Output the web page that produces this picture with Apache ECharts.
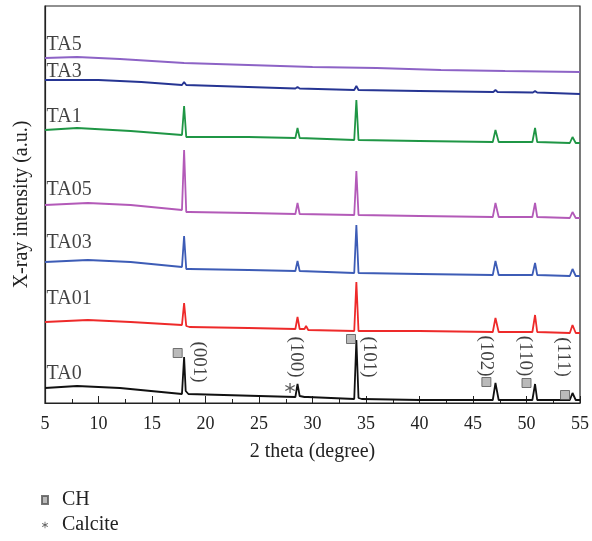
<!DOCTYPE html>
<html lang="en">
<head>
<meta charset="UTF-8">
<title>XRD</title>
<script src="https://cdn.jsdelivr.net/npm/echarts@6/dist/echarts.min.js"></script>
<style>
html, body { margin: 0; padding: 0; background: #fff; }
#main { width: 592px; height: 541px; }
</style>
</head>
<body>
<div id="main"></div>
<script>
// intensities (a.u., offset per sample)
var ta0 = [[5,15],[8,17],[12,15],[17.8,9],[18.0,46],[18.15,12],[18.4,9],[25,7],[28.4,6],[28.6,19],[28.8,7],[29.25,6],[29.4,8],[29.55,6],[33.9,4],[34.1,63],[34.3,5],[34.6,4],[40,3],[46.85,3],[47.1,20],[47.4,3],[50.55,3],[50.8,19],[51.0,3],[54.05,3],[54.3,10],[54.6,3],[55,3]];
var ta01 = [[5,81],[9,83],[13,81],[17.8,78],[18.0,100],[18.2,77],[18.5,76],[24,75],[28.4,74],[28.6,86],[28.8,74],[29.25,74],[29.4,77],[29.6,73],[33.9,72],[34.1,121],[34.3,72],[40,72],[46.85,71],[47.1,85],[47.4,71],[50.55,71],[50.8,88],[51.0,71],[54.05,70],[54.3,78],[54.6,70],[55,70]];
var ta03 = [[5,141],[9,143],[13,141],[17.8,136],[18.0,167],[18.2,134],[18.5,134],[24,133],[28.4,132],[28.6,142],[28.8,132],[33.9,130],[34.1,178],[34.3,130],[40,129],[46.85,128],[47.1,142],[47.4,128],[50.55,128],[50.8,140],[51.0,128],[54.05,127],[54.3,134],[54.6,127],[55,127]];
var ta05 = [[5,198],[9,200],[13,198],[17.8,193],[18.0,253],[18.2,191],[18.5,191],[24,190],[28.4,189],[28.6,200],[28.8,189],[33.9,188],[34.1,232],[34.3,188],[40,187],[46.85,186],[47.1,200],[47.4,186],[50.55,186],[50.8,200],[51.0,186],[54.05,185],[54.3,191],[54.6,185],[55,185]];
var ta1 = [[5,273],[8,275],[13,272],[17.8,268],[18.0,297],[18.2,266],[18.5,266],[24,266],[28.4,265],[28.6,275],[28.8,265],[33.9,263],[34.1,303],[34.3,263],[40,262],[46.85,261],[47.1,273],[47.4,261],[50.55,261],[50.8,275],[51.0,261],[54.05,260],[54.3,266],[54.6,260],[55,260]];
var ta3 = [[5,323],[10,323],[14,321],[17.8,318],[18.0,321],[18.2,318],[24,316],[28.4,314.5],[28.6,316],[28.8,314.5],[33.9,313],[34.1,317],[34.3,313],[40,312],[46.9,311],[47.1,313],[47.3,311],[50.6,310.5],[50.8,312],[51.0,310.5],[55,309]];
var ta5 = [[5,345],[8,346],[12,344],[18,340],[24,338],[30,336],[36,335],[42,333],[48,332],[55,331]];

var sampleNames = ['TA0','TA01','TA03','TA05','TA1','TA3','TA5'];
var sampleColors = ['#111111','#ee2a2a','#3d5cb6','#b35ab8','#1f9645','#263593','#8d63c6'];
var sampleLabelX = [5.15,5.15,5.15,5.15,5.15,5.15,5.15];
var sampleLabelY = [29,104,160,213,286,331,358];

var chPeaks = [[17.4,50],[33.6,64],[46.25,21],[50.0,20],[53.6,8]];
var calcitePeaks = [[27.9,15]];
var hklLabels = ['(001)','(100)','(101)','(102)','(110)','(111)'];
var hklPos = [[19.4,41],[28.5,46],[35.25,46],[46.2,47],[49.9,47],[53.45,46]];

var xTicks = { min: 5, max: 55, interval: 5 };

var serif = '"Liberation Serif", "DejaVu Serif", serif';
var asterisk = 'path://M4.4,0 L5.6,0 L5.6,10 L4.4,10 Z M1.0,1.9 L9.6,6.9 L9.0,8.0 L0.4,3.0 Z M9.0,1.9 L9.6,3.0 L1.0,8.0 L0.4,6.9 Z';

var allData = [ta0, ta01, ta03, ta05, ta1, ta3, ta5];
var series = [];
for (var i = 0; i < allData.length; i++) {
    series.push({
        name: sampleNames[i], type: 'line', data: allData[i],
        showSymbol: false, symbol: 'none',
        lineStyle: { color: sampleColors[i], width: 1.8 },
        itemStyle: { color: sampleColors[i] },
        z: 2
    });
}
// sample names
var nameData = [];
for (var i = 0; i < sampleNames.length; i++) {
    nameData.push([sampleLabelX[i], sampleLabelY[i], sampleNames[i]]);
}
series.push({
    name: 'names', type: 'scatter', data: nameData, symbolSize: 0,
    label: { show: true, position: 'right', distance: 0, formatter: function (p) { return p.value[2]; },
        fontFamily: serif, fontSize: 20, color: '#111' },
    silent: true, z: 3
});
// hkl labels
var hklData = [];
for (var i = 0; i < hklLabels.length; i++) {
    hklData.push([hklPos[i][0], hklPos[i][1], hklLabels[i]]);
}
series.push({
    name: 'hkl', type: 'scatter', data: hklData, symbolSize: 0,
    label: { show: true, position: 'inside', rotate: -90, formatter: function (p) { return p.value[2]; },
        fontFamily: serif, fontSize: 19, color: '#111' },
    silent: true, z: 3
});
series.push({
    name: 'CH', type: 'scatter', data: chPeaks, symbol: 'rect', symbolSize: 9,
    itemStyle: { color: '#a9a9a9', borderColor: '#555', borderWidth: 1 }, z: 4
});
series.push({
    name: 'Calcite', type: 'scatter', data: calcitePeaks, symbol: asterisk, symbolSize: 10,
    itemStyle: { color: '#333' }, z: 4
});

var chart = echarts.init(document.getElementById('main'), null, { renderer: 'canvas' });
chart.setOption({
    animation: false,
    grid: { left: 45, right: 10, top: 6, bottom: 138, show: true, borderColor: '#222', borderWidth: 1.2 },
    legend: {
        orient: 'vertical', left: 41, top: 490, padding: 0, itemGap: 5, itemWidth: 6, itemHeight: 8,
        data: [{ name: 'CH', icon: 'rect' }, { name: 'Calcite', icon: asterisk }],
        textStyle: { fontFamily: serif, fontSize: 20, color: '#222', padding: [0, 0, 0, 9] },
        selectedMode: false
    },
    xAxis: {
        type: 'value', min: xTicks.min, max: xTicks.max, interval: xTicks.interval,
        name: '2 theta (degree)', nameLocation: 'middle', nameGap: 39,
        nameTextStyle: { fontFamily: serif, fontSize: 20, color: '#222' },
        axisLine: { lineStyle: { color: '#222', width: 1.2 } },
        axisTick: { inside: true, length: 7, lineStyle: { color: '#222' } },
        minorTick: { show: true, splitNumber: 2, length: 4, lineStyle: { color: '#222' } },
        axisLabel: { fontFamily: serif, fontSize: 18, color: '#222', margin: 12 },
        splitLine: { show: false }
    },
    yAxis: {
        type: 'value', min: 0, max: 397,
        name: 'X-ray intensity (a.u.)', nameLocation: 'middle', nameGap: 13,
        nameTextStyle: { fontFamily: serif, fontSize: 20, color: '#222' },
        axisLine: { show: true, lineStyle: { color: '#222', width: 1.2 } },
        axisTick: { show: false }, axisLabel: { show: false }, splitLine: { show: false }
    },
    series: series
});
</script>
</body>
</html>
